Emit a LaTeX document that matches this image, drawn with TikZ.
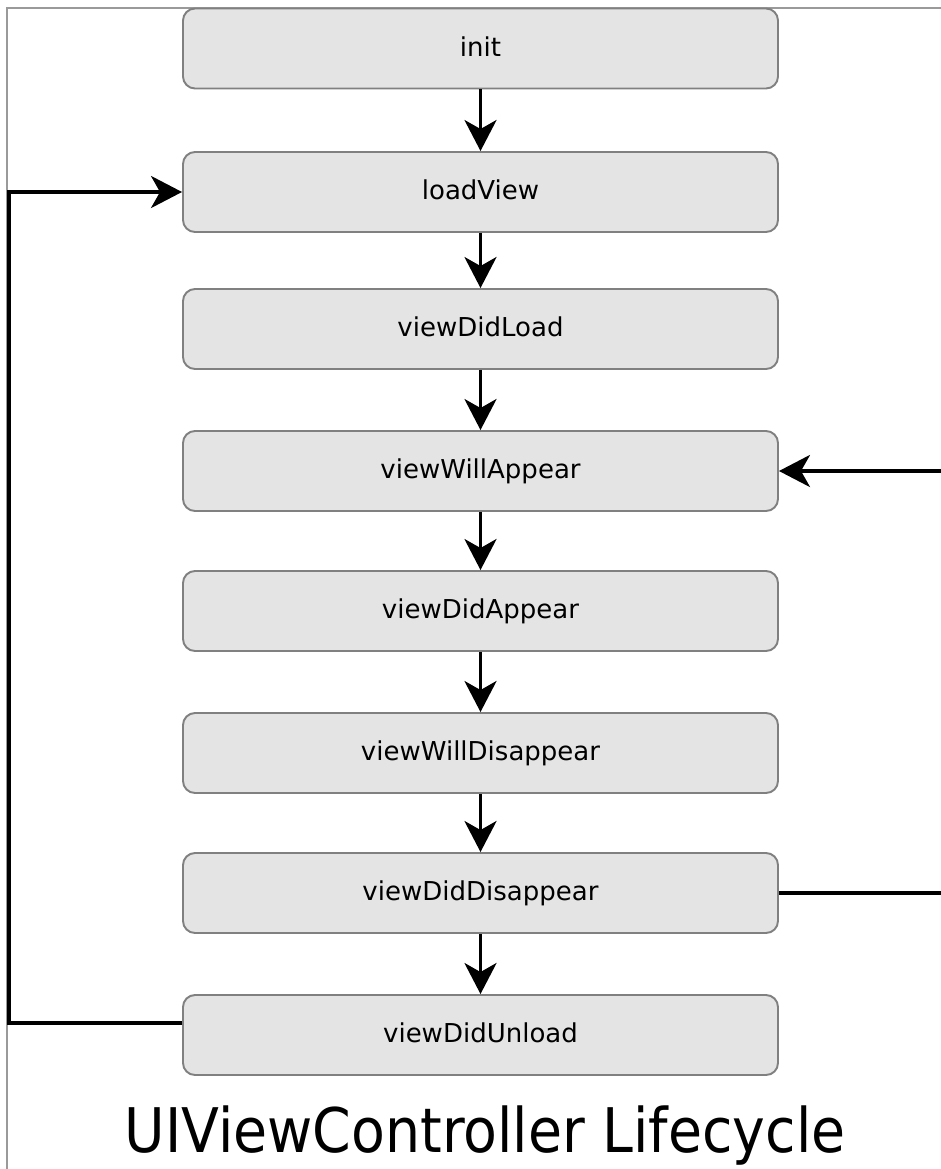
\documentclass[tikz,border=0pt]{standalone}
\usepackage{fontspec}
\setmainfont{DejaVu Sans}
\usetikzlibrary{arrows.meta}
\definecolor{boxfill}{HTML}{E4E4E4}
\definecolor{boxline}{HTML}{808080}
\definecolor{frameline}{HTML}{9A9A9A}
\begin{document}
\begin{tikzpicture}[
  stage/.style={draw=boxline, fill=boxfill, line width=1.1pt, rounded corners=0.24cm,
    minimum width=11.9cm, minimum height=1.6cm, inner sep=0pt,
    text height=0.9em, text depth=0pt, font=\fontsize{14.8}{17}\selectfont},
  flow/.style={line width=2.1pt, -{Stealth[length=0.62cm,width=0.64cm,inset=0.18cm]}},
  back/.style={line width=2.1pt}
]
\useasboundingbox (0,0) rectangle (18.82,-23.38);
\draw[frameline, line width=0.8pt] (0.14,-23.38) -- (0.14,-0.16) -- (18.82,-0.16);
\node[stage] (init) at (9.61,-0.97){init};
\node[stage] (load) at (9.61,-3.84){loadView};
\node[stage] (didload) at (9.61,-6.58){viewDidLoad};
\node[stage] (willappear) at (9.61,-9.42){viewWillAppear};
\node[stage] (didappear) at (9.61,-12.22){viewDidAppear};
\node[stage] (willdisappear) at (9.61,-15.06){viewWillDisappear};
\node[stage] (diddisappear) at (9.61,-17.86){viewDidDisappear};
\node[stage] (unload) at (9.61,-20.7){viewDidUnload};
\draw[flow](init) -- (load);
\draw[flow](load) -- (didload);
\draw[flow](didload) -- (willappear);
\draw[flow](willappear) -- (didappear);
\draw[flow](didappear) -- (willdisappear);
\draw[flow](willdisappear) -- (diddisappear);
\draw[flow](diddisappear) -- (unload);
% loop back to loadView
\draw[flow]([yshift=0.24cm]unload.west) -- ++(-3.46,0) |- (load.west);
% right side
\coordinate (rightin) at (18.82,-9.42);
\coordinate (rightout) at (18.82,-17.86);
\draw[flow](rightin) -- (willappear.east);
\draw[back](diddisappear.east) -- (rightout);
\node[anchor=base, font=\fontsize{35}{40}\selectfont] (title) at (9.7,-23.04)
  {\scalebox{0.9}[1]{UIViewController Lifecycle}};
\end{tikzpicture}
\end{document}
